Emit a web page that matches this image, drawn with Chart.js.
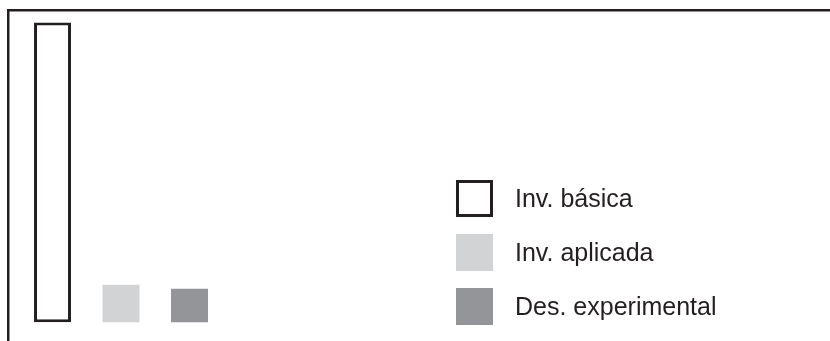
<!DOCTYPE html>
<html>
<head>
<meta charset="utf-8">
<script src="https://cdn.jsdelivr.net/npm/chart.js@4/dist/chart.umd.min.js"></script>
<style>
  html, body { margin: 0; padding: 0; background: #fff; }
  #wrap { position: relative; width: 830px; height: 341px; }
  #legend { position: absolute; left: 456px; top: 180px; margin: 0; padding: 0; list-style: none;
            font-family: "Liberation Sans", Arial, sans-serif; font-size: 25px; color: #231f20; }
  #legend li { display: flex; align-items: center; height: 37px; margin-bottom: 17px; }
  #legend span.box { display: inline-block; width: 37px; height: 37px; box-sizing: border-box; margin-right: 22px; }
</style>
</head>
<body>
<div id="wrap">
  <canvas id="myChart" width="830" height="341"></canvas>
  <ul id="legend"></ul>
</div>
<script>
// categorias y valores
var categorias = ['Inv. básica', 'Inv. aplicada', 'Des. experimental']
var valores = [96, 12, 10.7]
var colores = ['#ffffff', '#d1d3d4', '#939598']
var bordes = ['#231f20', '#d1d3d4', '#939598']

var puntos = valores.map(function (v, i) {
    return { x: i + 1, y: v }
})

var ctx = document.getElementById('myChart').getContext('2d')
var myChart = new Chart(ctx, {
    type: 'bar',
    data: {
        datasets: [{
            data: puntos,
            backgroundColor: colores,
            borderColor: bordes,
            borderWidth: [3, 0, 0],
            borderSkipped: false,
            barPercentage: 0.54,
            categoryPercentage: 1
        }]
    },
    options: {
        responsive: false,
        animation: false,
        layout: { padding: { left: 8, top: 10, right: 0, bottom: 0 } },
        plugins: { legend: { display: false }, tooltip: { enabled: false } },
        scales: {
            x: {
                type: 'linear',
                position: 'top',
                offset: false,
                bounds: 'data',
                min: 0.35,
                max: 12.35,
                grid: { display: false, drawTicks: false, offset: false },
                ticks: { display: false },
                border: { display: true, color: '#231f20', width: 2.5 }
            },
            y: {
                min: -6,
                max: 100,
                grid: { display: false, drawTicks: false },
                ticks: { display: false },
                border: { display: true, color: '#231f20', width: 2.5 }
            }
        }
    }
})

/** leyenda */
var legend = document.getElementById('legend')
categorias.forEach(function (c, i) {
    var li = document.createElement('li')
    var box = document.createElement('span')
    box.className = 'box'
    box.style.background = colores[i]
    if (i === 0) box.style.border = '3px solid ' + bordes[i]
    li.appendChild(box)
    li.appendChild(document.createTextNode(c))
    legend.appendChild(li)
})
</script>
</body>
</html>
